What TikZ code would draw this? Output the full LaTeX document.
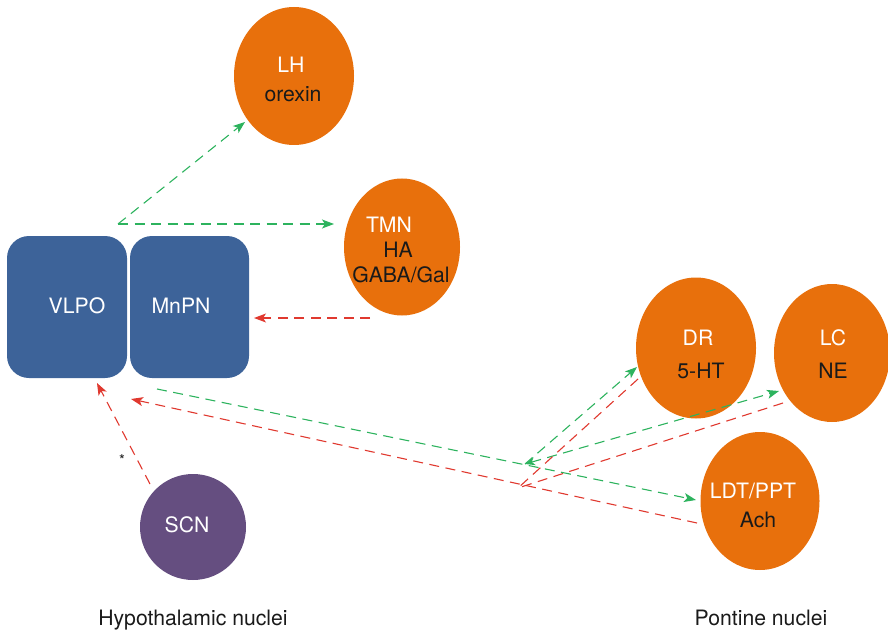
\documentclass[tikz,border=0pt]{standalone}
\usepackage{fontspec}
\setmainfont{TeX Gyre Heros}
\usetikzlibrary{shapes.geometric,arrows.meta}
\definecolor{nucOrange}{HTML}{E8700C}
\definecolor{nucBlue}{HTML}{3D6399}
\definecolor{nucPurple}{HTML}{654E80}
\definecolor{exGreen}{HTML}{2DB35E}
\definecolor{inRed}{HTML}{E0392F}
\definecolor{txtDark}{HTML}{1A1A1A}
\begin{document}
\begin{tikzpicture}[x=1pt,y=-1pt,
  nucleus/.style={ellipse, fill=nucOrange, draw=none, inner sep=0pt},
  areabox/.style={rectangle, rounded corners=22pt, fill=nucBlue, draw=none, inner sep=0pt},
  lbl/.style={anchor=base, inner sep=0pt, font=\fontsize{21.2}{25}\selectfont},
  wlbl/.style={lbl, text=white},
  dlbl/.style={lbl, text=txtDark},
  conn/.style={dash pattern=on 10pt off 6.5pt, line width=1.1pt},
  excite/.style={conn, draw=exGreen, -{Stealth[length=12pt,width=9pt,inset=3pt]}},
  inhib/.style={conn, draw=inRed, -{Stealth[length=12pt,width=9pt,inset=3pt]}},
  inhibplain/.style={conn, draw=inRed},
]
\useasboundingbox (0,0) rectangle (888,631);

% hypothalamic areas
\node[areabox, minimum width=120pt, minimum height=142pt] (vlpo) at (67,307) {};
\node[areabox, minimum width=119pt, minimum height=142pt] (mnpn) at (189.5,307) {};
\node[wlbl] (vlpoT) at (77,313) {VLPO};
\node[wlbl] (mnpnT) at (181,313) {MnPN};

% LH
\node[nucleus, minimum width=120pt, minimum height=138pt] (lh) at (294,76) {};
\node[wlbl] (lhT) at (291,73) {LH};
\node[dlbl] (lhN) at (293,102) {orexin};

% TMN
\node[nucleus, minimum width=116pt, minimum height=137pt] (tmn) at (402,247) {};
\node[wlbl] (tmnT) at (389,232) {TMN};
\node[dlbl] (tmnN) at (398,257) {HA};
\node[dlbl] (tmnG) at (401,282) {GABA/Gal};

% DR
\node[nucleus, minimum width=120pt, minimum height=141pt] (dr) at (696,348) {};
\node[wlbl] (drT) at (698,345) {DR};
\node[dlbl] (drN) at (701,378) {5-HT};

% LC
\node[nucleus, minimum width=116pt, minimum height=138pt] (lc) at (832,353) {};
\node[wlbl] (lcT) at (833,345) {LC};
\node[dlbl] (lcN) at (833,378) {NE};

% LDT/PPT
\node[nucleus, minimum width=119pt, minimum height=138pt] (ldt) at (760,501) {};
\node[wlbl] (ldtT) at (753,498) {LDT/PPT};
\node[dlbl] (ldtN) at (758,527) {Ach};

% SCN
\node[circle, fill=nucPurple, draw=none, inner sep=0pt, minimum size=106pt] (scn) at (193,527) {};
\node[wlbl] (scnT) at (187,532) {SCN};

% star
\node[inner sep=0pt, font=\fontsize{15}{17}\selectfont, text=txtDark] (star) at (122,460) {*};

% captions
\node[dlbl] (capH) at (193,625) {Hypothalamic nuclei};
\node[dlbl] (capP) at (761,625) {Pontine nuclei};

% connector end points
\coordinate (gsrc) at (118,224);
\coordinate (lhIn) at (245,122);
\coordinate (tmnIn) at (334,224);
\coordinate (tmnOut) at (370,318);
\coordinate (mnpnIn) at (254,318);
\coordinate (scnOut) at (150,484);
\coordinate (vlpoInS) at (97,383);
\coordinate (vlpoOut) at (157,389);
\coordinate (ldtIn) at (696,500);
\coordinate (ldtOut) at (697,523);
\coordinate (vlpoInL) at (131,399);
\coordinate (jg) at (525,464);
\coordinate (drIn) at (637,367);
\coordinate (lcIn) at (779,391);
\coordinate (drOut) at (638,379);
\coordinate (lcOut) at (783,403);
\coordinate (jr1) at (518,488);
\coordinate (jr2) at (521,487);

% excitatory (green)
\draw[excite] (gsrc) -- (lhIn);
\draw[excite] (gsrc) -- (tmnIn);
\draw[excite] (vlpoOut) -- (ldtIn);
\draw[excite] (jg) -- (drIn);
\draw[excite, {Stealth[length=10pt,width=8pt,inset=3pt]}-{Stealth[length=12pt,width=9pt,inset=3pt]}] (jg) -- (lcIn);

% inhibitory (red)
\draw[inhib] (tmnOut) -- (mnpnIn);
\draw[inhib] (scnOut) -- (vlpoInS);
\draw[inhib] (ldtOut) -- (vlpoInL);
\draw[inhibplain] (drOut) -- (jr1);
\draw[inhibplain] (lcOut) -- (jr2);
\end{tikzpicture}
\end{document}
